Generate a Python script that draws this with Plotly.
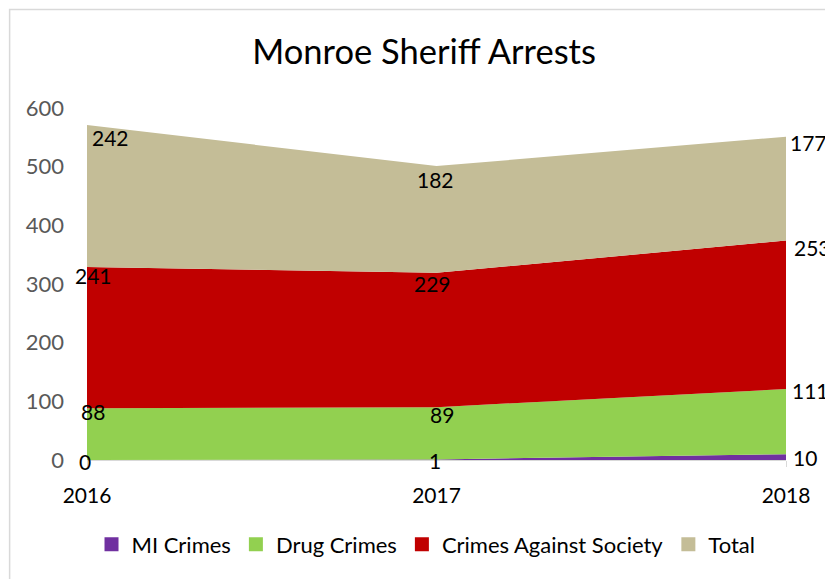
import plotly.graph_objects as go

# Arrests by year and category
years = [2016, 2017, 2018]
series_names = ["MI Crimes", "Drug Crimes", "Crimes Against Society", "Total"]
mi_crimes = [0, 1, 10]
drug_crimes = [88, 89, 111]
crimes_against_society = [241, 229, 253]
total = [242, 182, 177]
y_ticks = [0, 100, 200, 300, 400, 500, 600]

series_values = [mi_crimes, drug_crimes, crimes_against_society, total]
colors = ["#7030A0", "#92D050", "#C00000", "#C4BD97"]

FONT = "Lato, 'Open Sans', sans-serif"

# Per-label nudges in pixels (dx, dy) for each series / year
label_nudge = [
    [(-2, -1), (-2, -1), (5, -3)],
    [(6, -3), (5, -7), (4, -1)],
    [(6, -9), (-4, -11), (6, -7)],
    [(23, -12), (-1, -13), (2, -6)],
]

fig = go.Figure()

for name, vals, col in zip(series_names, series_values, colors):
    fig.add_trace(go.Scatter(
        x=years, y=vals, name=name, stackgroup="one",
        mode="lines", line=dict(width=0, color=col),
        fillcolor=col, showlegend=False, hoverinfo="x+y+name",
    ))
    # legend entry as a square swatch
    fig.add_trace(go.Scatter(
        x=[None], y=[None], name=name, mode="markers",
        marker=dict(symbol="square", size=14, color=col),
        showlegend=True,
    ))

# Value labels placed at the top edge of each stacked band
annotations = []
cum = [0] * len(years)
for si, vals in enumerate(series_values):
    for i, (yr, v) in enumerate(zip(years, vals)):
        cum[i] += v
        dx, dy = label_nudge[si][i]
        last = i == len(years) - 1
        annotations.append(dict(
            x=yr, y=cum[i], xref="x", yref="y", text=str(v),
            showarrow=False, xanchor="left" if last else "center",
            yanchor="middle", xshift=dx, yshift=dy,
            font=dict(family=FONT, size=21, color="#000000"),
        ))

fig.update_layout(
    width=825, height=579,
    margin=dict(l=87, r=39, t=108, b=119),
    paper_bgcolor="white", plot_bgcolor="white",
    title=dict(
        text="Monroe Sheriff Arrests", x=0.514, xref="container", xanchor="center",
        y=0.91, yref="container", yanchor="middle",
        font=dict(family=FONT, size=34.5, color="#000000"),
    ),
    xaxis=dict(
        range=[2016, 2018], tickvals=years, ticktext=[str(y) for y in years],
        showgrid=False, zeroline=False, showline=True, linecolor="#d9d9d9", linewidth=1,
        ticks="outside", ticklen=6, tickcolor="#d9d9d9", ticklabelstandoff=11,
        tickfont=dict(family=FONT, size=21, color="#000000"),
    ),
    yaxis=dict(
        range=[0, 600], tickvals=y_ticks, showgrid=True, gridcolor="#d9d9d9",
        zeroline=False, showline=False, ticks="", ticklabelstandoff=22,
        tickfont=dict(family=FONT, size=22, color="#595959"),
    ),
    legend=dict(
        orientation="h", x=0.485, xanchor="center", y=-0.24, yanchor="middle",
        font=dict(family=FONT, size=22, color="#000000"),
        itemwidth=30, traceorder="normal",
    ),
    annotations=annotations,
    shapes=[dict(
        type="rect", xref="paper", yref="paper",
        x0=(9.5 - 87) / 700, x1=1.5, y0=-1, y1=(460 - 9.5) / 352,
        line=dict(color="#d9d9d9", width=1.5), fillcolor="rgba(0,0,0,0)", layer="below",
    )],
    hovermode="closest",
)

fig.write_html("out.html")
